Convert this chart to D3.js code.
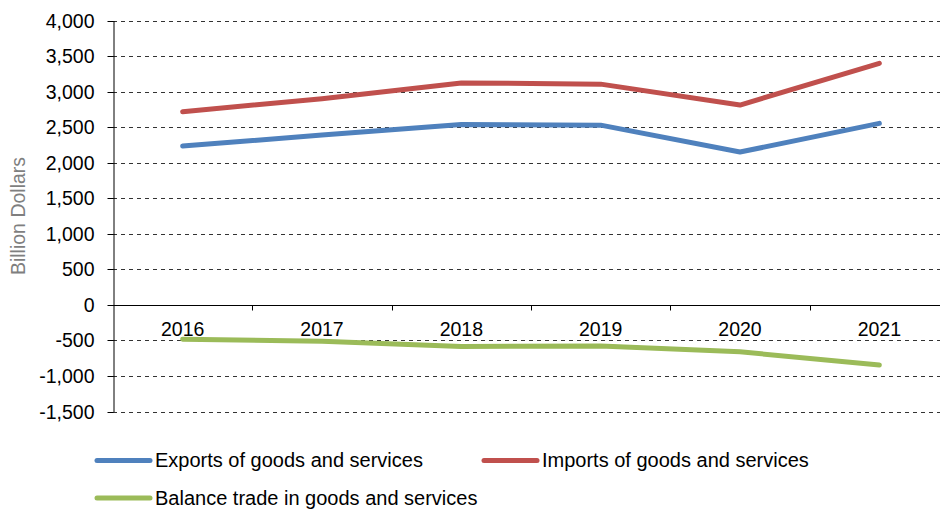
<!DOCTYPE html>
<html>
<head>
<meta charset="utf-8">
<script src="https://cdn.jsdelivr.net/npm/d3@7"></script>
<style>
  html, body { margin: 0; padding: 0; background: #fff; }
  svg { display: block; font-family: "Liberation Sans", Arial, sans-serif; }
</style>
</head>
<body>
<svg id="chart" width="940" height="511"></svg>
<script>
// US trade in goods and services, billion dollars
const years = ["2016", "2017", "2018", "2019", "2020", "2021"];
const exportsValues = [2235, 2388, 2538, 2528, 2150, 2553];
const importsValues = [2717, 2900, 3122, 3105, 2811, 3398];
const balanceValues = [-482, -512, -584, -577, -661, -845];
const yTicks = [-1500, -1000, -500, 0, 500, 1000, 1500, 2000, 2500, 3000, 3500, 4000];

const seriesList = [
  { name: "Exports of goods and services", values: exportsValues, color: "#4F81BD" },
  { name: "Imports of goods and services", values: importsValues, color: "#C0504D" },
  { name: "Balance trade in goods and services", values: balanceValues, color: "#9BBB59" }
];

const svg = d3.select("#chart");
const plotLeft = 113, plotRight = 949, plotTop = 20.5, plotBottom = 411.5;
const labelSize = 19.5;

const x = d3.scaleBand().domain(years).range([plotLeft, plotRight]);
const y = d3.scaleLinear().domain([-1500, 4000]).range([plotBottom, plotTop]);
const fmt = d3.formatLocale({ decimal: ".", thousands: ",", grouping: [3], currency: ["$", ""], minus: "-" }).format(",");

// dashed horizontal gridlines
svg.append("g")
  .selectAll("line")
  .data(yTicks.filter(d => d !== 0))
  .join("line")
  .attr("x1", plotLeft).attr("x2", plotRight)
  .attr("y1", d => Math.round(y(d)) + 0.5).attr("y2", d => Math.round(y(d)) + 0.5)
  .attr("stroke", "#333").attr("stroke-width", 1)
  .attr("stroke-dasharray", "4,4");

// y axis with outward ticks
const yAxis = svg.append("g")
  .attr("transform", `translate(${plotLeft + 0.5},0)`)
  .call(d3.axisLeft(y).tickValues(yTicks).tickFormat(fmt).tickSize(6).tickSizeOuter(0))
  .call(g => g.selectAll("path.domain").attr("stroke", "#000"))
  .call(g => g.selectAll(".tick line").attr("stroke", "#000"))
  .call(g => g.selectAll(".tick text")
    .attr("x", -19)
    .attr("font-size", labelSize)
    .attr("font-family", "Liberation Sans, Arial, sans-serif")
    .attr("fill", "#000"));
yAxis.selectAll(".tick").attr("transform", d => `translate(0,${Math.round(y(d)) + 0.5})`);

// zero line with category separators
const zeroY = Math.round(y(0)) + 0.5;
svg.append("line")
  .attr("x1", plotLeft).attr("x2", plotRight)
  .attr("y1", zeroY).attr("y2", zeroY)
  .attr("stroke", "#000");
svg.append("g")
  .selectAll("line")
  .data(years.slice(1))
  .join("line")
  .attr("x1", d => Math.round(x(d)) + 0.5).attr("x2", d => Math.round(x(d)) + 0.5)
  .attr("y1", zeroY).attr("y2", zeroY + 5)
  .attr("stroke", "#000");

// category labels just under the zero line
svg.append("g")
  .selectAll("text")
  .data(years)
  .join("text")
  .attr("x", d => x(d) + x.bandwidth() / 2)
  .attr("y", zeroY + 30)
  .attr("text-anchor", "middle")
  .attr("font-size", labelSize)
  .attr("fill", "#000")
  .text(d => d);

// y axis title
svg.append("text")
  .attr("transform", `translate(25,216) rotate(-90)`)
  .attr("text-anchor", "middle")
  .attr("font-size", 19.5)
  .attr("fill", "#7f7f7f")
  .text("Billion Dollars");

// series lines
const line = d3.line()
  .x((d, i) => x(years[i]) + x.bandwidth() / 2)
  .y(d => y(d));

svg.append("g")
  .selectAll("path")
  .data(seriesList)
  .join("path")
  .attr("d", d => line(d.values))
  .attr("fill", "none")
  .attr("stroke", d => d.color)
  .attr("stroke-width", 5)
  .attr("stroke-linecap", "round")
  .attr("stroke-linejoin", "round");

// legend
const legendItems = [
  { s: seriesList[0], lx: 97, ly: 460.5 },
  { s: seriesList[1], lx: 484, ly: 460.5 },
  { s: seriesList[2], lx: 97, ly: 498 }
];
const legend = svg.append("g")
  .selectAll("g")
  .data(legendItems)
  .join("g")
  .attr("transform", d => `translate(${d.lx},${d.ly})`);
legend.append("line")
  .attr("x1", 0).attr("x2", 53)
  .attr("stroke", d => d.s.color)
  .attr("stroke-width", 5)
  .attr("stroke-linecap", "round");
legend.append("text")
  .attr("x", 58)
  .attr("y", 6.5)
  .attr("font-size", 20)
  .attr("fill", "#000")
  .text(d => d.s.name);
</script>
</body>
</html>
